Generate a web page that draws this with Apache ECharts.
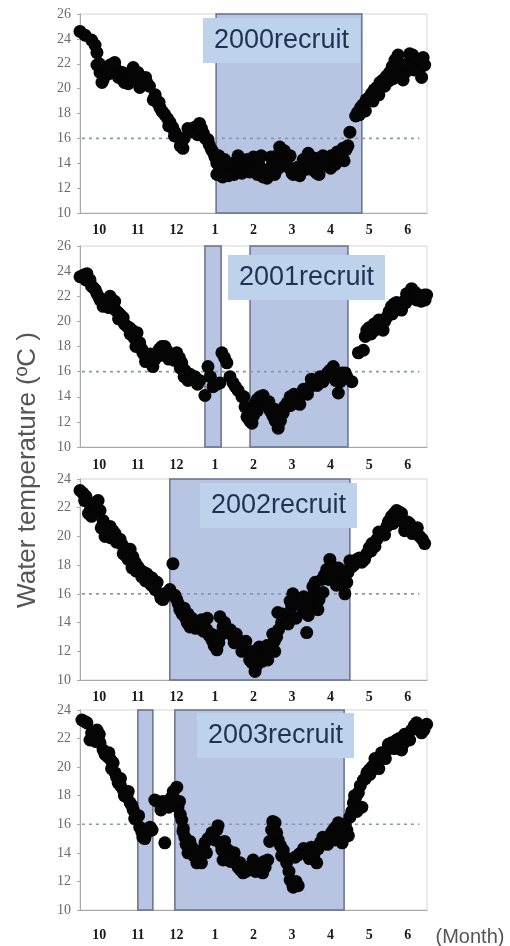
<!DOCTYPE html>
<html>
<head>
<meta charset="utf-8">
<script src="https://cdn.jsdelivr.net/npm/echarts@6/dist/echarts.min.js"></script>
<style>
html,body{margin:0;padding:0;background:#fff;}
#chart{width:510px;height:946px;}
</style>
</head>
<body>
<div id="chart"></div>
<script>
// Month labels (x in months from 1 Oct: 0..9)
const monthLabels = ['10','11','12','1','2','3','4','5','6'];
const panelNames = ['2000recruit','2001recruit','2002recruit','2003recruit'];
const yMaxes = [26, 26, 24, 24];
const refTemp = 16;

// Recruitment (shaded) periods, in months from 1 Oct
const shade2000 = [[3.53, 7.31]];
const shade2001 = [[3.24, 3.66], [4.41, 6.95]];
const shade2002 = [[2.33, 7.0]];
const shade2003 = [[1.5, 1.89], [2.46, 6.85]];

// Water temperature [month position, degC]
const temp2000 = [
[0,24.6],[0.13,24.3],[0.3,23.9],[0.39,23.5],[0.44,22.9],[0.44,21.9],[0.52,21.3],[0.57,20.5],[0.62,21.0],
[0.7,21.7],[0.78,21.9],[0.86,22.0],[0.95,21.5],[1.1,21.3],[1.2,20.8],[1.25,20.4],[1.38,21.7],[1.45,20.9],
[1.55,20.1],[1.65,20.6],[1.73,20.5],[1.9,19.1],[2.0,18.9],[2.07,18.5],[2.15,18.1],[2.2,17.9],[2.27,17.6],
[2.33,17.3],[2.4,16.9],[2.46,16.5],[2.55,16.1],[2.63,15.7],[2.67,15.2],[2.8,16.8],[2.9,16.6],[2.98,16.9],
[3.1,17.2],[3.2,16.4],[3.32,15.9],[3.41,15.1],[3.5,14.5],[3.55,14.0],[3.55,13.1],[3.62,13.5],[3.7,12.9],
[3.8,13.6],[3.89,13.2],[3.97,14.0],[4.05,13.6],[4.15,13.7],[4.25,14.1],[4.33,14.3],[4.42,13.8],[4.5,14.5],
[4.57,14.2],[4.63,14.0],[4.75,12.9],[4.82,13.4],[4.88,13.5],[5.0,14.0],[5.1,14.6],[5.18,15.3],[5.25,14.5],
[5.32,14.0],[5.4,13.7],[5.53,13.1],[5.6,13.6],[5.66,13.7],[5.79,14.3],[5.92,14.8],[6.0,13.7],[6.07,13.4],
[6.14,13.2],[6.27,13.7],[6.36,14.0],[6.44,14.3],[6.52,14.6],[6.6,14.5],[6.67,14.9],[6.74,14.8],[6.82,15.2],
[6.9,15.1],[7.0,16.5],[7.15,17.8],[7.2,18.1],[7.28,18.5],[7.34,18.7],[7.42,19.1],[7.5,19.3],[7.56,19.6],
[7.63,19.9],[7.7,20.1],[7.78,20.5],[7.86,20.7],[7.95,21.0],[8.03,21.3],[8.1,21.8],[8.17,22.3],[8.25,22.7],
[8.31,21.8],[8.38,20.7],[8.44,21.3],[8.5,21.7],[8.57,22.3],[8.63,22.7],[8.73,22.0],[8.8,21.5],[8.86,20.9],[8.94,21.9],
[0.5,22.0],[0.6,20.7],[0.75,21.2],[0.9,22.1],[1.0,20.9],[1.15,20.5],[1.3,21.2],[1.5,21.3],[1.6,20.3],[1.7,20.9],
[1.8,20.2],[1.95,19.5],[2.05,18.9],[2.12,18.2],[2.3,17.0],[2.45,16.2],[2.6,15.4],[2.7,16.0],[2.85,16.5],[3.05,16.3],
[3.15,16.8],[3.25,16.0],[3.35,15.5],[3.45,14.9],
[3.6,14.6],[3.75,14.3],[3.85,13.0],[4.0,13.1],[4.1,14.6],[4.2,13.2],[4.4,13.3],[4.6,13.1],[4.7,14.6],[4.95,14.5],
[5.05,13.1],[5.15,13.6],[5.3,15.0],[5.45,14.6],[5.5,13.2],[5.63,13.2],[5.7,13.0],[5.85,13.5],[5.95,14.0],[6.1,14.4],
[6.2,13.1],[6.3,14.6],[6.5,13.6],[6.62,13.9],[6.8,14.3],[6.85,14.2],[6.95,15.4],[4.85,12.8],
[7.25,17.9],[7.4,18.2],[7.6,19.0],[7.75,19.5],[7.9,20.2],[8.0,20.6],[8.12,20.8],[8.2,21.5],[8.4,21.9],[8.55,22.8],
[8.67,21.5],[8.9,22.5]
];
const temp2001 = [
[0,23.55],[0.1,23.7],[0.18,23.8],[0.26,23.3],[0.34,22.7],[0.44,22.2],[0.52,21.7],[0.6,21.2],[0.7,21.6],
[0.78,22.0],[0.86,21.2],[0.92,20.9],[0.99,20.7],[1.05,20.5],[1.12,20.3],[1.22,19.6],[1.28,19.5],[1.35,19.3],
[1.48,19.1],[1.55,18.3],[1.63,17.5],[1.7,17.2],[1.76,16.9],[1.89,16.4],[2.0,17.5],[2.06,17.8],[2.12,18.0],
[2.25,17.7],[2.32,17.4],[2.38,17.2],[2.51,17.5],[2.58,17.1],[2.64,16.7],[2.72,16.1],[2.8,15.3],[2.9,15.5],
[2.98,15.6],[3.1,15.3],[3.24,14.1],[3.32,16.4],[3.38,15.6],[3.45,14.8],[3.55,15.0],[3.63,15.1],[3.68,17.5],
[3.75,17.1],[3.81,16.7],[3.89,15.6],[3.97,15.1],[4.03,14.8],[4.1,14.5],[4.2,14.0],[4.28,13.2],[4.33,12.4],
[4.4,12.1],[4.46,11.9],[4.54,13.5],[4.6,13.8],[4.67,14.0],[4.73,13.9],[4.8,13.7],[4.87,13.3],[4.93,12.9],
[5.0,12.5],[5.06,12.1],[5.14,11.5],[5.2,12.1],[5.27,12.7],[5.37,13.5],[5.45,14.0],[5.52,13.8],[5.58,13.5],
[5.65,13.8],[5.71,14.0],[5.84,14.3],[5.97,14.8],[6.04,15.0],[6.1,15.3],[6.23,15.6],[6.36,15.6],[6.42,15.9],
[6.48,16.1],[6.57,16.4],[6.63,15.3],[6.7,14.3],[6.8,15.9],[6.92,15.6],[7.05,15.2],[7.22,17.5],[7.35,17.7],
[7.44,19.3],[7.5,19.5],[7.57,19.6],[7.63,19.8],[7.7,19.9],[7.78,19.6],[7.86,19.3],[7.95,20.3],[8.02,20.8],
[8.08,21.2],[8.15,21.4],[8.21,21.5],[8.34,20.9],[8.4,21.6],[8.47,22.2],[8.6,22.6],[8.67,22.1],[8.73,21.7],
[8.8,21.9],[8.86,22.0],[8.93,22.1],[8.99,22.1],
[0.15,23.3],[0.3,22.8],[0.4,22.5],[0.5,21.9],[0.65,21.4],[0.75,21.1],[0.9,21.6],[1.0,20.2],[1.15,19.8],[1.3,19.0],
[1.4,18.7],[1.45,18.0],[1.6,17.8],[1.7,16.8],[1.82,17.4],[1.95,17.0],[2.1,17.3],[2.2,18.0],[2.3,17.0],[2.45,16.9],
[2.6,16.3],[2.7,15.6],[2.85,15.8],[3.05,15.0],
[4.25,14.0],[4.35,13.0],[4.5,12.5],[4.6,12.9],[4.75,14.1],[4.9,13.6],[5.05,13.0],[5.15,12.5],[5.3,13.2],[5.45,13.3],
[5.55,14.2],[5.7,13.4],[5.8,14.6],[5.9,14.2],[6.0,15.4],[6.15,14.9],[6.3,15.2],[6.45,15.6],[6.55,15.8],[6.75,15.2],
[6.88,15.9],
[7.4,18.8],[7.55,19.0],[7.65,19.3],[7.75,20.1],[7.9,20.0],[8.0,20.5],[8.1,20.6],[8.25,21.1],[8.45,21.5],[8.55,22.1],
[8.7,22.3],[8.85,21.6],[8.95,21.7]
];
const temp2002 = [
[0,23.2],[0.08,23.0],[0.15,22.8],[0.22,21.6],[0.28,22.0],[0.34,22.3],[0.42,22.4],[0.47,22.5],[0.52,21.8],
[0.6,21.1],[0.65,20.0],[0.72,20.4],[0.78,20.7],[0.85,20.4],[0.91,20.2],[1.04,19.8],[1.12,18.8],[1.25,18.4],
[1.3,19.1],[1.37,18.6],[1.43,18.2],[1.5,17.9],[1.55,17.7],[1.65,17.5],[1.73,17.4],[1.8,17.2],[1.87,17.1],
[2.0,16.8],[2.07,16.0],[2.15,15.6],[2.25,15.9],[2.33,16.3],[2.41,18.1],[2.46,15.9],[2.51,15.6],[2.59,14.9],
[2.65,14.6],[2.72,14.4],[2.78,14.0],[2.85,13.7],[2.95,13.9],[3.03,14.0],[3.1,14.1],[3.16,14.2],[3.22,13.8],
[3.29,13.5],[3.35,13.1],[3.42,12.8],[3.48,12.4],[3.55,12.1],[3.63,14.4],[3.71,13.7],[3.78,13.5],[3.84,13.3],
[3.97,13.0],[4.1,12.8],[4.16,12.5],[4.23,12.3],[4.3,12.1],[4.36,11.9],[4.46,11.2],[4.54,10.6],[4.61,11.4],
[4.68,11.8],[4.74,12.1],[4.8,11.7],[4.87,11.4],[4.97,12.3],[5.04,12.7],[5.1,13.0],[5.13,14.7],[5.23,14.0],
[5.3,14.2],[5.36,14.4],[5.49,15.1],[5.52,16.0],[5.65,15.6],[5.78,14.7],[5.88,13.3],[5.96,15.1],[6.04,16.5],
[6.1,15.7],[6.17,14.9],[6.27,17.0],[6.34,17.3],[6.4,17.7],[6.48,18.4],[6.55,17.9],[6.61,17.4],[6.74,17.2],
[6.8,16.6],[6.87,16.0],[6.92,16.8],[7.05,17.9],[7.12,18.2],[7.18,18.4],[7.31,18.2],[7.44,18.8],[7.5,19.2],
[7.57,19.5],[7.7,19.8],[7.83,20.2],[7.96,20.7],[8.02,21.1],[8.08,21.4],[8.15,21.6],[8.21,21.8],[8.34,21.6],
[8.42,20.4],[8.48,20.7],[8.55,20.9],[8.68,20.4],[8.81,20.0],[8.94,19.5],
[0.12,22.5],[0.3,21.4],[0.4,21.9],[0.55,20.6],[0.7,20.1],[0.8,19.9],[0.95,19.6],[1.1,19.4],[1.2,18.6],[1.35,17.8],
[1.45,17.6],[1.6,17.2],[1.7,16.9],[1.85,16.6],[1.95,16.3],[2.1,15.7],[2.2,16.0],
[2.55,15.3],[2.7,15.0],[2.8,14.6],[2.9,14.3],[3.0,13.6],[3.08,13.8],[3.2,13.4],[3.3,14.3],[3.4,13.2],[3.5,13.1],
[3.6,12.6],[3.68,13.2],[3.75,14.0],[3.9,13.5],[4.0,12.6],[4.05,13.2],[4.2,12.0],[4.3,12.7],[4.4,11.4],[4.5,12.0],
[4.58,11.0],[4.65,12.3],[4.72,11.3],[4.85,12.4],[4.9,11.9],[5.0,13.2],[5.05,12.0],
[5.15,13.5],[5.25,14.6],[5.4,13.9],[5.45,15.5],[5.6,14.3],[5.7,15.4],[5.8,15.8],[5.92,14.5],[6.0,15.8],[6.1,16.8],
[6.2,15.6],[6.3,16.1],[6.45,17.0],[6.52,17.9],[6.65,16.6],[6.7,17.8],[6.85,17.6],[6.95,17.5],[7.0,18.3],[7.1,18.0],
[7.25,18.5],[7.38,18.4],[7.55,19.0],[7.65,19.3],[7.75,20.3],[7.9,20.1],[8.0,21.0],[8.12,20.9],[8.28,21.7],[8.38,21.0],
[8.5,21.0],[8.62,20.2],[8.75,20.6],[8.88,19.8]
];
const temp2003 = [
[0.05,23.3],[0.12,23.2],[0.18,23.1],[0.26,21.9],[0.35,22.3],[0.44,22.6],[0.52,21.7],[0.6,21.2],[0.67,20.9],
[0.73,20.7],[0.8,20.5],[0.86,20.3],[0.91,19.6],[0.99,18.9],[1.05,18.7],[1.12,18.4],[1.22,17.9],[1.3,17.5],
[1.38,17.0],[1.48,16.5],[1.55,15.8],[1.63,15.1],[1.7,15.3],[1.78,15.5],[1.87,15.6],[1.94,17.7],[2.0,17.6],
[2.07,17.5],[2.2,14.7],[2.25,17.5],[2.32,17.7],[2.38,17.9],[2.51,18.6],[2.54,17.2],[2.6,16.7],[2.64,16.3],
[2.68,15.7],[2.72,15.1],[2.8,14.0],[2.9,14.4],[2.97,13.9],[3.03,13.3],[3.11,13.7],[3.18,14.2],[3.24,14.7],
[3.32,15.0],[3.42,15.4],[3.55,15.6],[3.63,14.7],[3.71,13.5],[3.78,13.9],[3.84,14.2],[3.97,13.7],[4.04,13.3],
[4.1,13.0],[4.16,12.8],[4.23,12.6],[4.3,12.7],[4.36,12.8],[4.49,13.5],[4.55,13.2],[4.61,13.0],[4.68,12.8],
[4.74,12.6],[4.8,13.0],[4.87,13.5],[4.97,15.6],[5.06,16.1],[5.14,14.9],[5.2,14.5],[5.27,14.2],[5.36,13.3],
[5.42,12.7],[5.45,12.1],[5.53,11.6],[5.58,13.7],[5.66,11.7],[5.74,14.0],[5.88,14.2],[6.0,14.4],[6.07,13.9],
[6.14,13.3],[6.23,14.7],[6.36,14.9],[6.48,15.1],[6.57,15.6],[6.63,15.8],[6.7,16.1],[6.8,14.7],[6.92,15.6],
[7.0,16.5],[7.09,17.5],[7.15,17.9],[7.22,18.2],[7.31,17.2],[7.35,19.1],[7.44,19.6],[7.5,19.8],[7.57,20.0],
[7.63,20.2],[7.7,20.5],[7.86,20.7],[7.96,21.2],[8.02,21.5],[8.08,21.7],[8.21,21.9],[8.34,21.2],[8.4,21.7],
[8.47,22.1],[8.6,22.6],[8.73,23.1],[8.8,22.8],[8.86,22.4],[8.99,23.0],
[0.3,22.4],[0.4,21.8],[0.5,22.3],[0.65,20.9],[0.75,21.0],[0.82,19.9],[0.95,19.3],[1.05,19.2],[1.15,18.0],[1.25,18.3],
[1.35,17.3],[1.42,16.4],[1.52,16.6],[1.6,15.5],[1.68,15.0],[1.82,15.8],
[2.1,17.0],[2.15,17.6],[2.3,17.2],[2.42,18.3],[2.48,17.7],[2.58,17.6],[2.67,15.5],[2.75,14.6],[2.85,14.8],[2.95,13.8],
[3.05,14.1],[3.15,13.3],[3.28,14.0],[3.35,15.0],[3.5,14.9],[3.58,15.9],[3.68,14.2],[3.75,14.8],[3.9,13.4],[4.0,14.0],
[4.15,13.3],[4.28,13.0],[4.42,13.0],[4.55,12.7],[4.7,13.1],[4.78,13.4],[4.92,14.8],[5.0,16.2],[5.1,15.4],[5.23,13.8],
[5.32,13.7],[5.5,11.9],[5.6,12.0],[5.68,13.9],[5.8,14.3],[5.95,13.6],[6.05,14.1],[6.18,14.3],[6.3,15.1],[6.42,14.6],
[6.52,15.4],[6.62,14.9],[6.75,15.5],[6.88,16.0],[6.96,15.2],[7.05,16.9],[7.12,18.0],[7.18,16.9],[7.27,18.7],[7.4,19.2],
[7.52,19.5],[7.65,20.6],[7.75,19.9],[7.82,21.0],[7.92,20.6],[8.0,21.6],[8.15,21.3],[8.28,22.0],[8.42,22.3],[8.55,21.9],
[8.67,22.9],[8.92,22.6]
];

const temps = [temp2000, temp2001, temp2002, temp2003];
const shades = [shade2000, shade2001, shade2002, shade2003];

// Layout (pixels)
const gridTops = [14, 246, 479, 710];
const gridHeights = [199, 201, 201, 200];
const labelMargins = [10, 11, 10, 18];
const boxPos = [[203, 18, 167], [228, 255, 159], [200, 483, 157], [197, 713, 157]];

const chart = echarts.init(document.getElementById('chart'), null, {renderer: 'canvas'});

const grids = [], xAxes = [], yAxes = [], series = [], titles = [];
for (let i = 0; i < 4; i++) {
  grids.push({left: 80, width: 347, top: gridTops[i], height: gridHeights[i],
    show: true, borderColor: '#d4d4d4', borderWidth: 1, backgroundColor: 'transparent'});
  xAxes.push({
    type: 'value', gridIndex: i, min: 0, max: 9, interval: 0.5,
    axisLine: {show: true, onZero: false, lineStyle: {color: '#a8a8a8', width: 1}},
    axisTick: {show: false},
    splitLine: {show: false},
    axisLabel: {
      margin: labelMargins[i], color: '#1a1a1a', fontFamily: 'Liberation Serif, DejaVu Serif, serif',
      fontWeight: 'bold', fontSize: 14,
      formatter: function (v) { const k = Math.round(v * 2); return (k % 2 === 1) ? monthLabels[(k - 1) / 2] : ''; }
    }
  });
  yAxes.push({
    type: 'value', gridIndex: i, min: 10, max: yMaxes[i], interval: 2,
    axisLine: {show: true, lineStyle: {color: '#a8a8a8', width: 1}},
    axisTick: {show: true, length: 3, lineStyle: {color: '#a8a8a8'}},
    splitLine: {show: false},
    axisLabel: {margin: 9, color: '#6a6a6a', fontFamily: 'Liberation Serif, DejaVu Serif, serif', fontSize: 14}
  });
  // shaded periods + reference dashed line
  series.push({
    type: 'line', xAxisIndex: i, yAxisIndex: i, z: 1, silent: true,
    data: [[0.05, refTemp], [8.8, refTemp]], symbol: 'none',
    lineStyle: {color: '#8a96aa', width: 1.6, type: [3, 4]},
    markArea: {
      silent: true,
      itemStyle: {color: '#b7c5e3', borderColor: '#66728c', borderWidth: 1.5},
      data: shades[i].map(function (s) { return [{xAxis: s[0], yAxis: 10}, {xAxis: s[1], yAxis: yMaxes[i]}]; })
    }
  });
  series.push({
    type: 'scatter', xAxisIndex: i, yAxisIndex: i, z: 3,
    symbol: 'circle', symbolSize: 13,
    itemStyle: {color: '#050505', opacity: 1},
    data: temps[i]
  });
  titles.push({
    text: panelNames[i], left: boxPos[i][0], top: boxPos[i][1],
    backgroundColor: '#bed2ec', padding: [9, 11, 9, 11],
    textStyle: {fontSize: 27, fontWeight: 'normal', color: '#1e3252', fontFamily: 'Liberation Sans, Arial, sans-serif'}
  });
}

chart.setOption({
  animation: false,
  backgroundColor: '#ffffff',
  title: titles,
  grid: grids,
  xAxis: xAxes,
  yAxis: yAxes,
  series: series,
  graphic: [
    {type: 'text', x: 28, y: 470, rotation: Math.PI / 2,
      style: {text: 'Water temperature (ºC )', fontSize: 26, fill: '#555555',
        fontFamily: 'Liberation Sans, Arial, sans-serif', textAlign: 'center', textVerticalAlign: 'middle'}},
    {type: 'text', x: 470, y: 937,
      style: {text: '(Month)', fontSize: 20, fill: '#555555',
        fontFamily: 'Liberation Sans, Arial, sans-serif', textAlign: 'center', textVerticalAlign: 'middle'}}
  ]
});
</script>
</body>
</html>
